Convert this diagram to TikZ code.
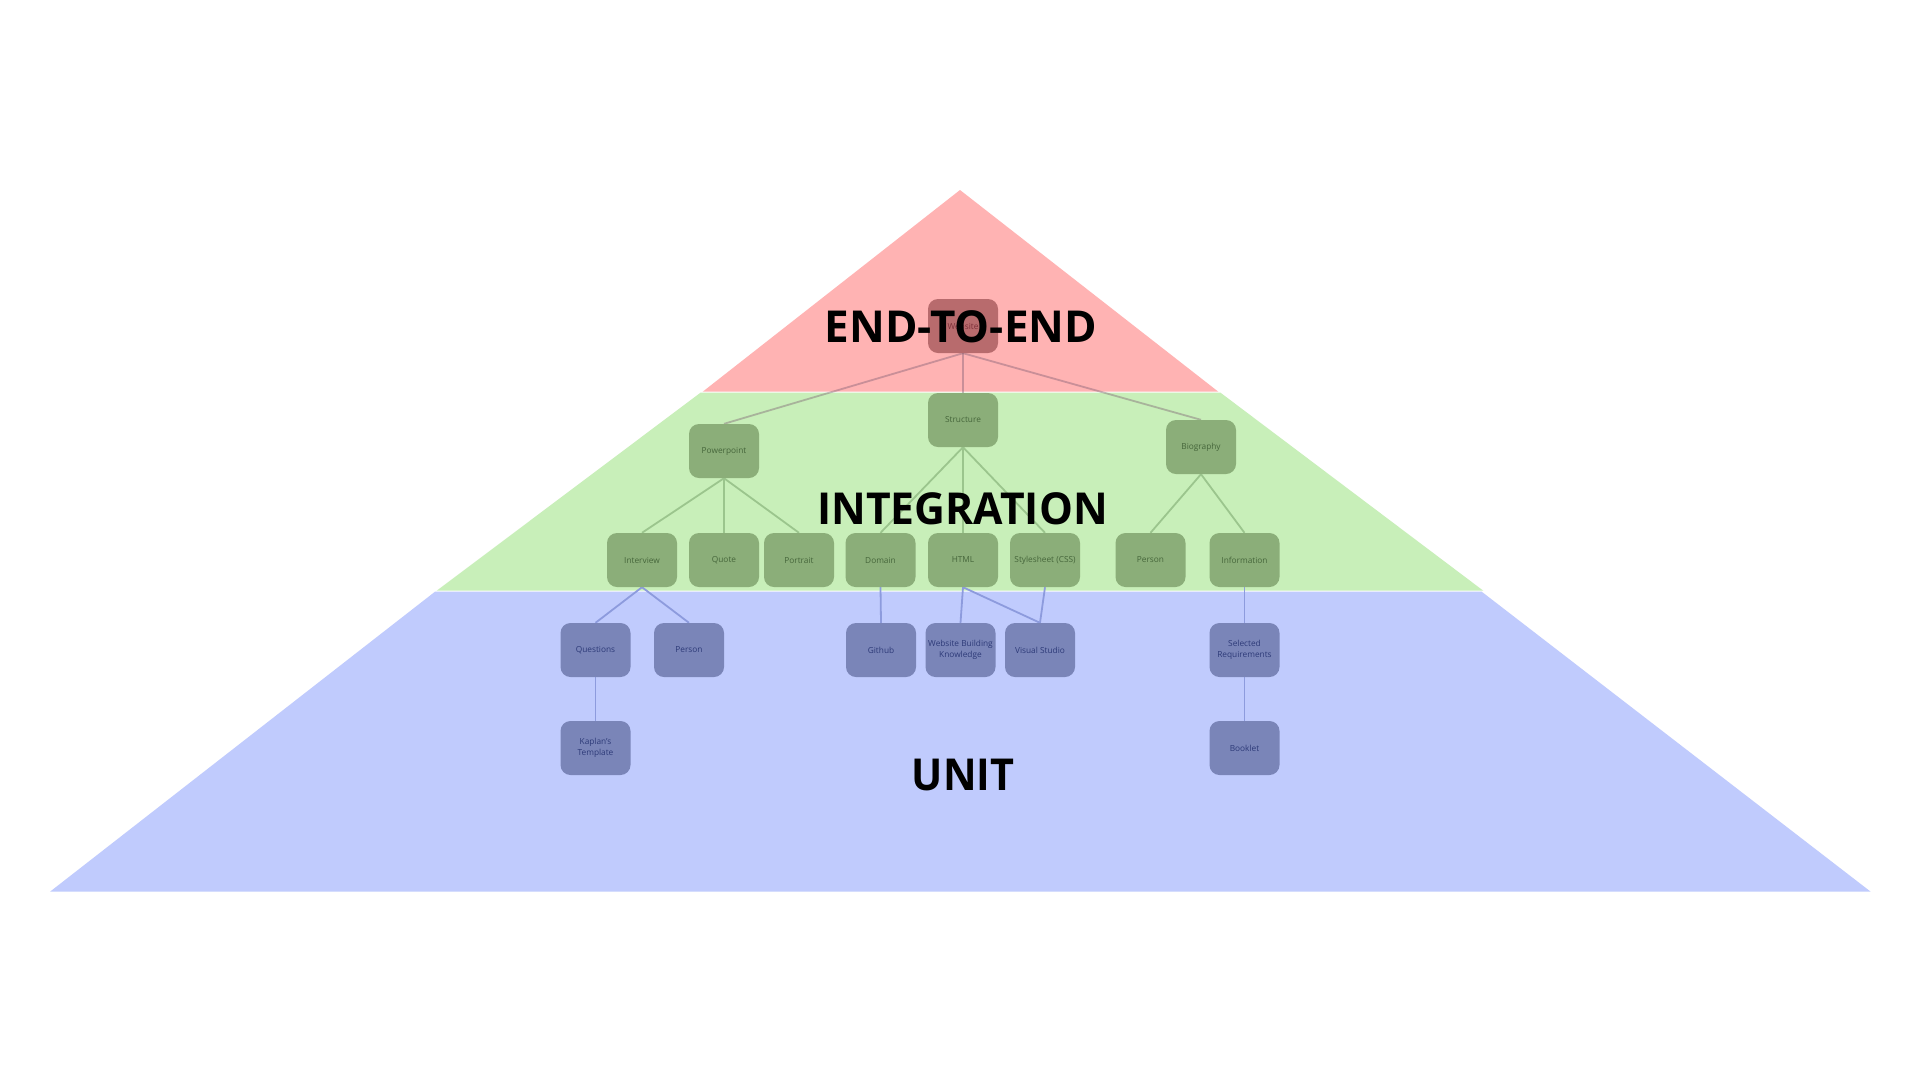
\documentclass[tikz,border=0pt]{standalone}
\usepackage{fontspec}
\setmainfont{Open Sans}
\definecolor{bandred}{HTML}{FFB3B3}
\definecolor{bandgreen}{HTML}{C8EFB9}
\definecolor{bandblue}{HTML}{C0CBFD}
\definecolor{boxred}{HTML}{B86B6D}
\definecolor{boxgreen}{HTML}{8BAE79}
\definecolor{boxblue}{HTML}{7A85B8}
\definecolor{txtred}{HTML}{7D3039}
\definecolor{txtgreen}{HTML}{46663B}
\definecolor{txtblue}{HTML}{2D3A78}
\definecolor{edgered}{HTML}{7A5A70}
\definecolor{edgegreen}{HTML}{9BC58D}
\definecolor{edgeblue}{HTML}{8D9BDD}
\pgfdeclarelayer{bands}
\pgfdeclarelayer{edges}
\pgfsetlayers{bands,edges,main}
\begin{document}
\begin{tikzpicture}[x=1pt,y=-1pt,
  box/.style={rounded corners=10pt, minimum width=70pt, minimum height=54pt,
    inner sep=2pt, align=center, font=\fontsize{8.3}{11}\selectfont},
  rbox/.style={box, fill=boxred, text=txtred},
  gbox/.style={box, fill=boxgreen, text=txtgreen},
  bbox/.style={box, fill=boxblue, text=txtblue},
  redge/.style={draw=edgered, draw opacity=0.4, line width=1.8pt},
  gedge/.style={draw=edgegreen, line width=1.8pt},
  bedge/.style={draw=edgeblue, line width=1.8pt},
  big/.style={font=\fontsize{44}{50}\selectfont\bfseries, text=black, anchor=base, inner sep=0pt}
]
\useasboundingbox (0,0) rectangle (1920,1080);
\begin{pgfonlayer}{bands}
\fill[white] (0,0) rectangle (1920,1080);
\fill[bandred] (960,190) -- (1218.3,391.7) -- (702.7,391.7) -- cycle;
\fill[bandgreen] (700.5,392.7) -- (1220.5,392.7) -- (1483.3,590.7) -- (436.7,590.7) -- cycle;
\fill[bandblue] (435,591.7) -- (1481.7,591.7) -- (1870.7,891.7) -- (50,891.7) -- cycle;
\end{pgfonlayer}

% nodes
\node[rbox] (website) at (963,326) {Website};
\node[gbox] (structure) at (963,420) {Structure};
\node[gbox] (powerpoint) at (724,451) {Powerpoint};
\node[gbox] (biography) at (1201,447) {Biography};
\node[gbox] (interview) at (642,560) {Interview};
\node[gbox] (quote) at (724,560) {Quote};
\node[gbox] (portrait) at (799,560) {Portrait};
\node[gbox] (domain) at (880.5,560) {Domain};
\node[gbox] (html) at (963,560) {HTML};
\node[gbox] (css) at (1045,560) {Stylesheet (CSS)};
\node[gbox] (gperson) at (1150.5,560) {Person};
\node[gbox] (information) at (1244.5,560) {Information};
\node[bbox] (questions) at (595.5,650) {Questions};
\node[bbox] (bperson) at (689,650) {Person};
\node[bbox] (github) at (881,650) {Github};
\node[bbox] (wbk) at (960.5,650) {Website Building\\Knowledge};
\node[bbox] (vs) at (1040,650) {Visual Studio};
\node[bbox] (selreq) at (1244.5,650) {Selected\\Requirements};
\node[bbox] (kaplan) at (595.5,748) {Kaplan’s\\Template};
\node[bbox] (booklet) at (1244.5,748) {Booklet};

% edges
\begin{pgfonlayer}{edges}
\draw[redge] (website.south) -- (powerpoint.north);
\draw[redge] (website.south) -- (structure.north);
\draw[redge] (website.south) -- (biography.north);
\draw[gedge] (powerpoint.south) -- (interview.north);
\draw[gedge] (powerpoint.south) -- (quote.north);
\draw[gedge] (powerpoint.south) -- (portrait.north);
\draw[gedge] (structure.south) -- (domain.north);
\draw[gedge] (structure.south) -- (html.north);
\draw[gedge] (structure.south) -- (css.north);
\draw[gedge] (biography.south) -- (gperson.north);
\draw[gedge] (biography.south) -- (information.north);
\draw[bedge] (interview.south) -- (questions.north);
\draw[bedge] (interview.south) -- (bperson.north);
\draw[bedge] (questions.south) -- (kaplan.north);
\draw[bedge] (domain.south) -- (github.north);
\draw[bedge] (html.south) -- (wbk.north);
\draw[bedge] (html.south) -- (vs.north);
\draw[bedge] (css.south) -- (vs.north);
\draw[bedge] (information.south) -- (selreq.north);
\draw[bedge] (selreq.south) -- (booklet.north);
\end{pgfonlayer}

% level labels
\node[big] (lblend) at (961,342.3) {END-TO-END};
\node[big] (lblint) at (962.5,524) {\scalebox{0.97}[1]{INTEGRATION}};
\node[big] (lblunit) at (963,790) {\scalebox{0.94}[1]{UNIT}};
\end{tikzpicture}
\end{document}
